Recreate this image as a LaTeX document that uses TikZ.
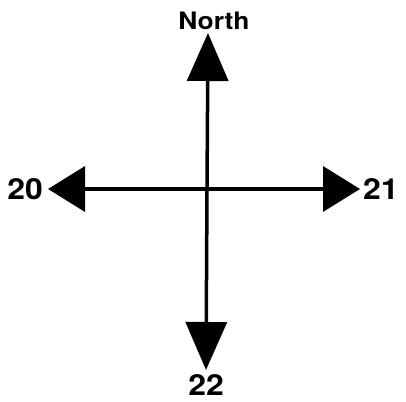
\documentclass[tikz,border=0pt]{standalone}
\usepackage{fontspec}
\setmainfont{TeX Gyre Heros}
\usetikzlibrary{arrows.meta, positioning}

\newcommand{\widetxt}[1]{\scalebox{1.1}[1]{#1}}

\begin{document}
\begin{tikzpicture}[
    x=1pt, y=1pt,
    dirlabel/.style={inner sep=0pt, font=\bfseries\fontsize{29}{32}\selectfont},
    northlabel/.style={dirlabel, font=\bfseries\fontsize{24}{28}\selectfont},
    arrow/.style={line width=3.5pt},
    vertarrow/.style={arrow, -{Triangle[length=48pt, width=41pt]}},
    horzarrow/.style={arrow, -{Triangle[length=37pt, width=45pt]}}
  ]
    \useasboundingbox (0,0) rectangle (406,401);

    \coordinate (centre) at (207,212);
    \coordinate (tipN) at (208,368);
    \coordinate (tipS) at (206,31);
    \coordinate (tipW) at (48,212);
    \coordinate (tipE) at (360,212);

    \node[northlabel, above=3pt of tipN, xshift=6pt] (north) {\widetxt{North}};
    \node[dirlabel, left=5pt of tipW] (west) {\widetxt{20}};
    \node[dirlabel, right=3pt of tipE] (east) {\widetxt{21}};
    \node[dirlabel, below=4pt of tipS] (south) {\widetxt{22}};

    \draw[vertarrow] (centre) -- (tipN);
    \draw[vertarrow] (centre) -- (tipS);
    \draw[horzarrow] (centre) -- (tipW);
    \draw[horzarrow] (centre) -- (tipE);
  \end{tikzpicture}
\end{document}
